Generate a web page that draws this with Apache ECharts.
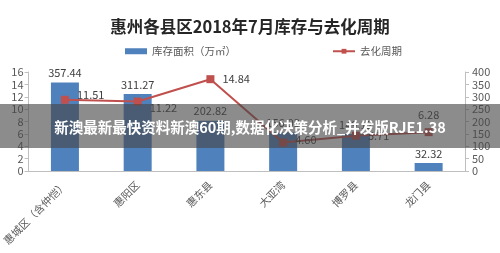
<!DOCTYPE html>
<html>
<head>
<meta charset="utf-8">
<script src="https://cdn.jsdelivr.net/npm/echarts@6/dist/echarts.min.js"></script>
<style>
  html, body { margin: 0; padding: 0; background: #fff; }
  #chart { width: 500px; height: 253px; }
</style>
</head>
<body>
<div id="chart"></div>
<script>
// === Données ===
const districts = ['惠城区（含仲恺）', '惠阳区', '惠东县', '大亚湾', '博罗县', '龙门县'];
const stock = [357.44, 311.27, 202.82, 156.93, 149.12, 32.32];
const cycle = [11.51, 11.22, 14.84, 4.60, 5.71, 6.28];
const leftTicks = [0, 16, 2];
const rightTicks = [0, 400, 50];

const banner = '新澳最新最快资料新澳60期,数据化决策分析_并发版RJE1.38';

// position des étiquettes de la courbe
const cyclePos = ['right', 'right', 'right', 'right', 'right', 'top'];
const cycleOff = [[0, -5], [0, 6], [0, 0], [0, -3], [0, 0], [0, 0]];

const font = '"Noto Sans CJK SC", "Noto Sans", sans-serif';
const txt = '#595959';

const myChart = echarts.init(document.getElementById('chart'));
myChart.setOption({
    animation: false,
    textStyle: { fontFamily: font },
    title: {
        text: '惠州各县区2018年7月库存与去化周期',
        left: 'center',
        top: 13,
        textStyle: { fontSize: 16.5, fontWeight: 'bold', color: '#262626', fontFamily: font }
    },
    legend: {
        top: 41,
        left: 120,
        itemGap: 96,
        itemWidth: 22,
        itemHeight: 6,
        textStyle: { fontSize: 10.5, color: txt },
        data: [
            { name: '库存面积（万㎡）', icon: 'rect' },
            { name: '去化周期' }
        ]
    },
    grid: { left: 25, right: 35, top: 72, bottom: 82 },
    xAxis: {
        type: 'category',
        data: districts,
        axisLine: { lineStyle: { color: '#bfbfbf' } },
        axisTick: { show: false },
        axisLabel: { rotate: 45, interval: 0, fontSize: 10.5, color: txt, margin: 12 }
    },
    yAxis: [
        {
            type: 'value',
            min: leftTicks[0], max: leftTicks[1], interval: leftTicks[2],
            axisLine: { show: true, lineStyle: { color: '#bfbfbf' } },
            axisTick: { show: true, length: 4 },
            splitLine: { show: false },
            axisLabel: { fontSize: 11, color: txt, margin: 5 }
        },
        {
            type: 'value',
            min: rightTicks[0], max: rightTicks[1], interval: rightTicks[2],
            axisLine: { show: true, lineStyle: { color: '#bfbfbf' } },
            axisTick: { show: true, length: 4 },
            splitLine: { show: false },
            axisLabel: { fontSize: 11, color: txt, margin: 7 }
        }
    ],
    series: [
        {
            name: '库存面积（万㎡）',
            type: 'bar',
            yAxisIndex: 1,
            barWidth: 28,
            itemStyle: { color: '#4f81bd' },
            label: { show: true, position: 'top', fontSize: 11, color: '#404040', distance: 4 },
            data: stock
        },
        {
            name: '去化周期',
            type: 'line',
            yAxisIndex: 0,
            symbol: 'rect',
            symbolSize: 8,
            lineStyle: { color: '#c0504d', width: 2 },
            itemStyle: { color: '#c0504d' },
            data: cycle.map((v, i) => ({
                value: v,
                label: { show: true, position: cyclePos[i], offset: cycleOff[i], distance: 8, fontSize: 11, color: '#404040', formatter: p => p.value.toFixed(2) }
            }))
        }
    ],
    graphic: [
        {
            type: 'rect',
            shape: { x: 0, y: 104, width: 500, height: 44 },
            style: { fill: 'rgba(70,70,70,0.62)' },
            z: 100
        },
        {
            type: 'text',
            x: 250, y: 127,
            style: {
                text: banner,
                fill: '#fff',
                font: 'bold 14.5px ' + font,
                textAlign: 'center',
                textVerticalAlign: 'middle'
            },
            z: 101
        }
    ]
});
</script>
</body>
</html>
